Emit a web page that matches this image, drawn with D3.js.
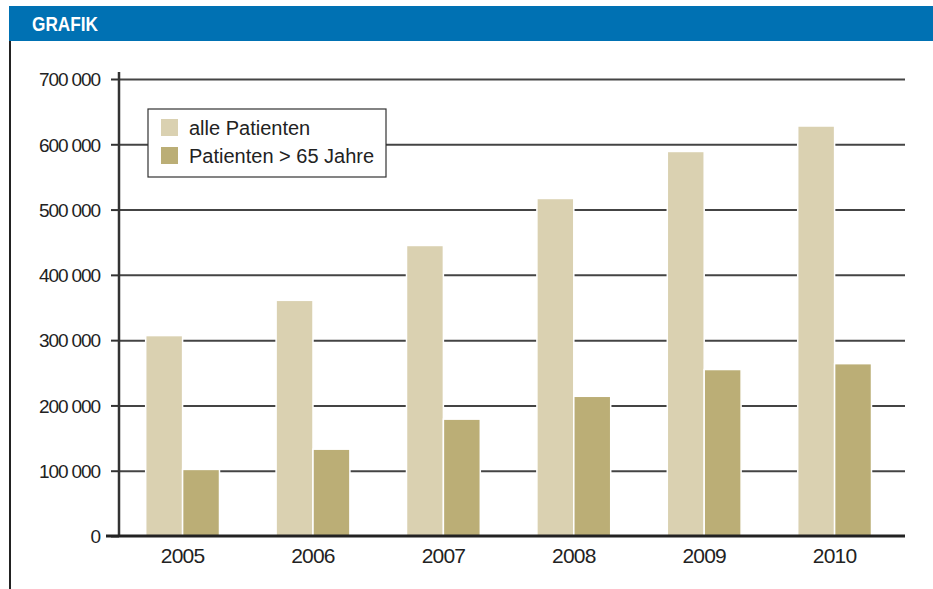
<!DOCTYPE html>
<html><head><meta charset="utf-8">
<script src="https://cdn.jsdelivr.net/npm/d3@7"></script>
<style>body{margin:0;background:#fff}svg{display:block}</style>
</head><body>
<script>
const years = ["2005","2006","2007","2008","2009","2010"];
const allePatienten = [307000, 361000, 445000, 517000, 589000, 628000];
const patienten65 = [102000, 133000, 179000, 214000, 255000, 264000];
const seriesNames = ["alle Patienten", "Patienten > 65 Jahre"];
const yTicks = [0,100000,200000,300000,400000,500000,600000,700000];
const colors = ["#dad1b1", "#bbae76"];

const W = 933, H = 589;
const svg = d3.select("body").append("svg").attr("width", W).attr("height", H);

// header
svg.append("rect").attr("x", 9).attr("y", 6).attr("width", W - 9).attr("height", 35).attr("fill", "#0071b3");
svg.append("text").attr("x", 32).attr("y", 31).text("GRAFIK")
  .attr("fill", "#fff").attr("font-family", "Liberation Sans, Arial, sans-serif")
  .attr("font-weight", "bold").attr("font-size", 20)
  .attr("textLength", 66).attr("lengthAdjust", "spacingAndGlyphs");
svg.append("line").attr("x1", 10).attr("x2", 10).attr("y1", 41).attr("y2", H).attr("stroke", "#222").attr("stroke-width", 2);

const x0 = 119, x1 = 905, yTop = 79, yBot = 536;
const y = d3.scaleLinear().domain([0, 700000]).range([yBot, yTop]);
const xb = d3.scaleBand().domain(years).range([117.4, 899.8]).paddingInner(0.434).paddingOuter(0.217);
const xs = d3.scaleBand().domain([0,1]).range([0, xb.bandwidth()]);

const font = "Liberation Sans, Arial, Helvetica, sans-serif";

// gridlines via axis
const grid = svg.append("g").attr("transform", `translate(${x0},0)`)
  .call(d3.axisLeft(y).tickValues(yTicks.filter(d => d > 0)).tickSize(-(x1 - x0)).tickFormat(""));
grid.select(".domain").remove();
grid.selectAll("line").attr("stroke", "#444").attr("stroke-width", 2);

// y tick marks + labels
const ya = svg.append("g").attr("transform", `translate(${x0},0)`)
  .call(d3.axisLeft(y).tickValues(yTicks).tickSize(8).tickPadding(11)
    .tickFormat(d => d3.format(",")(d).replace(/,/g, " ")));
ya.select(".domain").remove();
ya.selectAll("line").attr("stroke", "#333").attr("stroke-width", 2);
ya.selectAll("text").attr("font-family", font).attr("font-size", 19).attr("fill", "#222")
  .attr("letter-spacing", "-1.1").attr("dy", "0.36em");

// bars
const series = [allePatienten, patienten65];
series.forEach((vals, si) => {
  svg.append("g").selectAll("rect").data(vals).join("rect")
    .attr("x", (d, i) => xb(years[i]) + xs(si))
    .attr("width", xs.bandwidth())
    .attr("y", d => y(d))
    .attr("height", d => yBot - y(d))
    .attr("fill", colors[si])
    .attr("stroke", "#fff").attr("stroke-width", 1.5);
});

// axes lines
svg.append("line").attr("x1", x0).attr("x2", x0).attr("y1", 72).attr("y2", yBot).attr("stroke", "#333").attr("stroke-width", 2.5);
const xa = svg.append("g").attr("transform", `translate(0,${yBot})`)
  .call(d3.axisBottom(xb).tickSize(0).tickPadding(12));
xa.select(".domain").remove();
xa.selectAll("text").attr("font-family", font).attr("font-size", 21).attr("fill", "#222")
  .attr("letter-spacing", "-0.8").attr("dy", "0.71em");
svg.append("line").attr("x1", 106).attr("x2", x1).attr("y1", yBot).attr("y2", yBot).attr("stroke", "#222").attr("stroke-width", 3);

// legend
const lg = svg.append("g");
lg.append("rect").attr("x", 148).attr("y", 109).attr("width", 238).attr("height", 68)
  .attr("fill", "#fff").attr("stroke", "#333").attr("stroke-width", 1.2);
seriesNames.forEach((n, i) => {
  lg.append("rect").attr("x", 161).attr("y", 119 + i * 28).attr("width", 17).attr("height", 17).attr("fill", colors[i]);
  lg.append("text").attr("x", 189).attr("y", 135 + i * 28).text(n)
    .attr("font-family", font).attr("font-size", 20).attr("fill", "#222");
});
</script>
</body></html>
